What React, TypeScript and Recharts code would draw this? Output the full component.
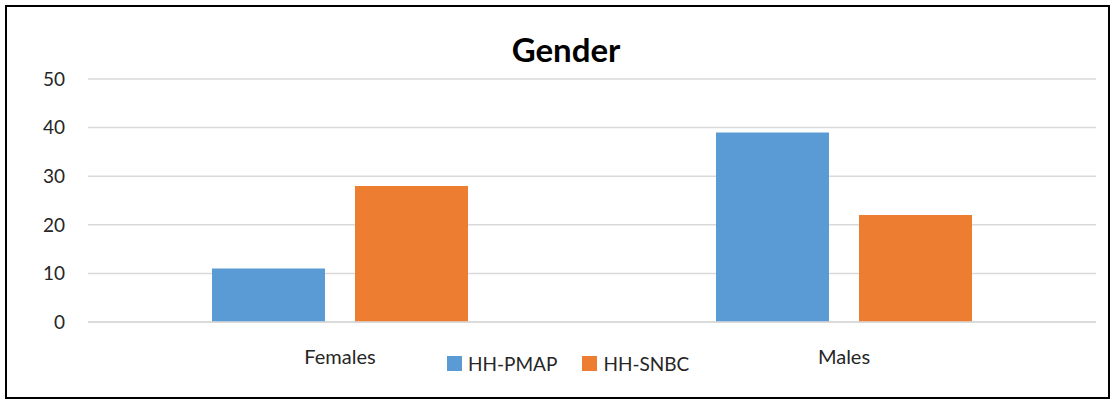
import React from 'react';
import { BarChart, Bar, XAxis, YAxis, CartesianGrid } from 'recharts';

// Gender split per household group
const categories = ['Females', 'Males'];
const hhPmap = [11, 39];
const hhSnbc = [28, 22];
const yTicks = [0, 10, 20, 30, 40, 50];

const SERIES = [
  { key: 'pmap', name: 'HH-PMAP', color: '#5B9BD5' },
  { key: 'snbc', name: 'HH-SNBC', color: '#ED7D31' },
];

const data = categories.map((c, i) => ({ category: c, pmap: hhPmap[i], snbc: hhSnbc[i] }));

const FONT = 'Lato, "Open Sans", sans-serif';
const TEXT = '#262626';

export default function App(): React.ReactElement {
  return (
    <div style={{ position: 'relative', width: 1113, height: 401, background: '#fff' }}>
      <style>{'body{margin:0;background:#fff}'}</style>
      <div
        style={{
          position: 'absolute',
          left: 5,
          top: 5,
          width: 1101,
          height: 390,
          border: '2px solid #000',
        }}
      />
      <div
        style={{
          position: 'absolute',
          left: 0,
          width: 1132,
          top: 29,
          lineHeight: '40px',
          textAlign: 'center',
          fontFamily: FONT,
          fontWeight: 'bold',
          fontSize: 33,
          color: '#000',
        }}
      >
        Gender
      </div>
      <div style={{ position: 'absolute', left: 0, top: 0 }}>
        <BarChart
          width={1113}
          height={401}
          data={data}
          margin={{ top: 79, right: 17, left: 0, bottom: 0 }}
          barSize={113}
          barGap={30}
        >
          <CartesianGrid vertical={false} stroke="#d9d9d9" strokeWidth={1.5} />
          <XAxis
            dataKey="category"
            height={79}
            axisLine={{ stroke: '#d9d9d9', strokeWidth: 1.5 }}
            tickLine={false}
            tickMargin={22}
            tick={{ fontSize: 20, fill: TEXT, fontFamily: FONT }}
          />
          <YAxis
            width={88}
            domain={[0, 50]}
            ticks={yTicks}
            axisLine={false}
            tickLine={false}
            tickSize={0}
            tickMargin={23}
            tick={{ fontSize: 19, fill: TEXT, fontFamily: FONT }}
          />
          {SERIES.map((s) => (
            <Bar key={s.key} dataKey={s.key} name={s.name} fill={s.color} isAnimationActive={false} />
          ))}
        </BarChart>
      </div>
      <div
        style={{
          position: 'absolute',
          left: 447,
          top: 351,
          height: 24,
          display: 'flex',
          alignItems: 'center',
          fontFamily: FONT,
          fontSize: 19,
          color: TEXT,
        }}
      >
        {SERIES.map((s) => (
          <div key={s.key} style={{ display: 'flex', alignItems: 'center', marginRight: 25 }}>
            <span style={{ width: 15, height: 15, background: s.color, marginRight: 6, display: 'inline-block' }} />
            <span>{s.name}</span>
          </div>
        ))}
      </div>
    </div>
  );
}
